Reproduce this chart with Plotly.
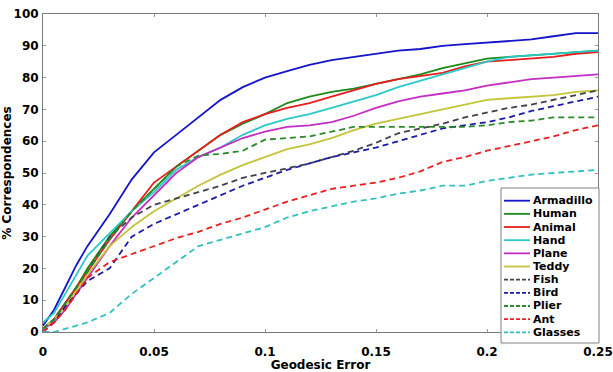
import plotly.graph_objects as go

# ---- data ----
geodesic_error = [0, 0.005, 0.01, 0.015, 0.02, 0.03, 0.04, 0.05, 0.06, 0.07, 0.08, 0.09,
                  0.10, 0.11, 0.12, 0.13, 0.14, 0.15, 0.16, 0.17, 0.18, 0.19, 0.20,
                  0.21, 0.22, 0.23, 0.24, 0.25]

armadillo = [2, 7, 14, 21, 27, 37, 48, 56.5, 62, 67.5, 73, 77, 80, 82, 84, 85.5, 86.5, 87.5,
             88.5, 89, 90, 90.5, 91, 91.5, 92, 93, 94, 94]
human = [1, 4, 9, 14, 20, 30, 38, 45, 52, 57, 62, 65.5, 68.5, 72, 74, 75.5, 76.5, 78,
         79.5, 81, 83, 84.5, 86, 86.5, 87, 87.5, 88, 88.5]
animal = [1, 4, 9, 14, 19, 29, 38, 47, 52, 57, 62, 66, 68.5, 70.5, 72, 74, 76, 78,
          79.5, 80.5, 81.5, 83.5, 85, 85.5, 86, 86.5, 87.5, 88]
hand = [3, 6, 12, 18, 24, 31, 38, 44, 51, 55, 58, 62, 65, 67, 68.5, 70.5, 72.5, 74.5,
        77, 79, 81, 83, 85, 86.5, 87, 87.5, 88, 88.5]
plane = [1, 3, 7, 12, 17, 27, 36, 43, 50, 55, 58, 61, 63, 64.5, 65, 66, 68, 70.5,
         72.5, 74, 75, 76, 77.5, 78.5, 79.5, 80, 80.5, 81]
teddy = [1, 4, 8, 13, 18, 27, 33, 38, 42, 46, 49.5, 52.5, 55, 57.5, 59, 61, 63.5, 65.5,
         67, 68.5, 70, 71.5, 73, 73.5, 74, 74.5, 75.5, 76]
fish = [1, 4, 9, 14, 19, 30, 36, 40, 42, 44, 46, 48.5, 50, 51.5, 53, 55, 57, 59.5,
        62.5, 64, 65.5, 67.5, 69, 70.5, 71.5, 73, 74.5, 76]
bird = [0, 3, 8, 12, 16, 20, 30, 34, 37, 40, 43, 46, 48.5, 51, 53, 55, 56.5, 58,
        60, 62, 64, 65, 66, 67.5, 69.5, 71, 72.5, 74]
plier = [1, 4, 9, 14, 19, 29, 38, 45, 52, 55.5, 56, 57, 60.5, 61, 61.5, 63, 64.5, 64.5,
         64.5, 64.5, 64.5, 64.5, 65, 66, 66.5, 67.5, 67.5, 67.5]
ant = [0, 3, 7, 12, 17, 22, 24.5, 27, 29.5, 31.5, 34, 36, 38.5, 41, 43, 45, 46, 47,
       48.5, 50.5, 53.5, 55, 57, 58.5, 60, 61.5, 63.5, 65]
glasses = [0, 0, 1, 2, 3, 6, 12, 17, 22, 27, 29, 31, 33, 36, 38, 39.5, 41, 42,
           43.5, 44.5, 46, 46, 47.5, 48.5, 49.5, 50, 50.5, 51]

series_names = ["Armadillo", "Human", "Animal", "Hand", "Plane", "Teddy",
                "Fish", "Bird", "Plier", "Ant", "Glasses"]
series_values = [armadillo, human, animal, hand, plane, teddy, fish, bird, plier, ant, glasses]
series_colors = ["#1414c8", "#1a8a1a", "#e81c1c", "#2cc8c8", "#c42ec4", "#c4c43a",
                 "#40404c", "#1a1aa8", "#2a8a2a", "#e82020", "#30c0c0"]
series_dash = ["solid"] * 6 + ["6px,4px"] * 5

x_ticks = [0, 0.05, 0.1, 0.15, 0.2, 0.25]
x_tick_labels = ["0", "0.05", "0.1", "0.15", "0.2", "0.25"]
y_ticks = list(range(0, 101, 10))

FONT = "DejaVu Sans"

fig = go.Figure()
for name, vals, col, dash in zip(series_names, series_values, series_colors, series_dash):
    fig.add_trace(go.Scatter(x=geodesic_error, y=vals, name=name, mode="lines",
                             line=dict(color=col, width=1.8, dash=dash),
                             showlegend=False))

# ---- hand-made legend box (compact, like the reference) ----
plot_w, plot_h = 555.0, 318.0
def px_x(p):
    return (p - 43) / plot_w
def px_y(p):
    return (332 - p) / plot_h

shapes = [dict(type="rect", xref="paper", yref="paper",
               x0=px_x(501), x1=px_x(599), y0=px_y(343), y1=px_y(188),
               line=dict(color="#808080", width=1), fillcolor="white", layer="above")]
annotations = []
for i, (name, col, dash) in enumerate(zip(series_names, series_colors, series_dash)):
    yc = 200.7 + i * 13.16
    shapes.append(dict(type="line", xref="paper", yref="paper",
                       x0=px_x(504), x1=px_x(530), y0=px_y(yc), y1=px_y(yc),
                       line=dict(color=col, width=1.8,
                                 dash="solid" if dash == "solid" else "4px,2px"),
                       layer="above"))
    annotations.append(dict(xref="paper", yref="paper", x=px_x(531), y=px_y(yc),
                            xanchor="left", yanchor="middle", showarrow=False,
                            text="<b>%s</b>" % name,
                            font=dict(family=FONT, size=11, color="black")))

fig.update_layout(
    width=613, height=372,
    margin=dict(l=43, r=15, t=14, b=40),
    paper_bgcolor="white", plot_bgcolor="white",
    font=dict(family=FONT, size=12, color="black"),
    shapes=shapes, annotations=annotations,
    showlegend=False,
)
fig.update_xaxes(range=[0, 0.25], tickvals=x_ticks, ticktext=["<b>%s</b>" % t for t in x_tick_labels],
                 automargin=False,
                 showgrid=False, zeroline=False, showline=True, linecolor="#7a7a7a", linewidth=1,
                 mirror="allticks", ticks="inside", ticklen=3, tickcolor="#9a9a9a",
                 ticklabelstandoff=9,
                 tickfont=dict(family=FONT, size=12, color="black"),
                 title=dict(text="<b>Geodesic Error</b>", standoff=0,
                            font=dict(family=FONT, size=12, color="black")))
fig.update_yaxes(range=[0, 100], tickvals=y_ticks, ticktext=["<b>%d</b>" % t for t in y_ticks],
                 automargin=False,
                 showgrid=False, zeroline=False, showline=True, linecolor="#7a7a7a", linewidth=1,
                 mirror="allticks", ticks="inside", ticklen=3, tickcolor="#9a9a9a",
                 ticklabelstandoff=1,
                 tickfont=dict(family=FONT, size=12, color="black"),
                 title=dict(text="<b>% Correspondences</b>", standoff=0,
                            font=dict(family=FONT, size=12, color="black")))

fig.write_html("out.html")
